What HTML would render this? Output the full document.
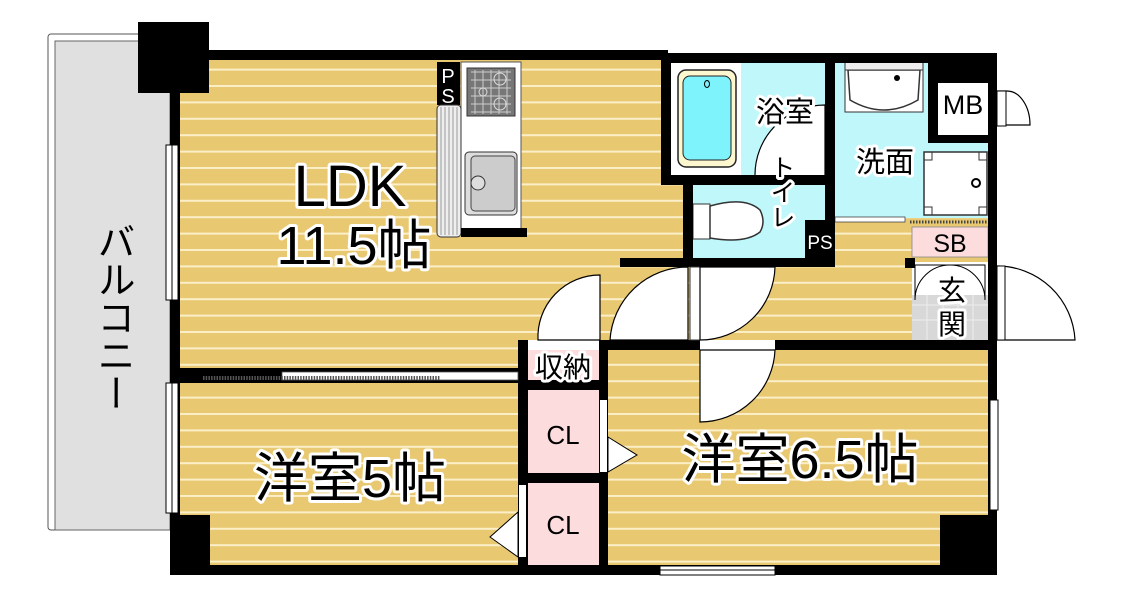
<!DOCTYPE html>
<html><head><meta charset="utf-8"><style>
html,body{margin:0;padding:0;background:#fff;width:1122px;height:605px;overflow:hidden}
svg{display:block}
.t{font-family:"Liberation Sans","Noto Sans CJK JP",sans-serif;fill:#000;stroke:#fff;stroke-width:6px;paint-order:stroke;stroke-linejoin:round}
.s{font-family:"Liberation Sans","Noto Sans CJK JP",sans-serif;fill:#000}
</style></head><body>
<svg width="1122" height="605" viewBox="0 0 1122 605" xmlns="http://www.w3.org/2000/svg">
<defs>
<pattern id="wood" x="0" y="3" width="20" height="16.4" patternUnits="userSpaceOnUse">
<rect width="20" height="16.4" fill="#e9c872"/><rect y="0" width="20" height="2" fill="#fbefc8"/>
</pattern>
</defs>
<rect x="48" y="34" width="125" height="496" fill="#fff" stroke="#555" stroke-width="1" rx="3"/>
<rect x="55" y="41" width="115" height="489" fill="#e0e0e0" stroke="#666" stroke-width="1"/>
<text class="s" x="112" y="222" font-size="38" style="writing-mode:vertical-rl" text-anchor="start">バルコニー</text>

<rect x="180" y="60" width="485" height="310" fill="url(#wood)"/>
<rect x="620" y="180" width="370" height="165" fill="url(#wood)"/>
<rect x="180" y="380" width="340" height="190" fill="url(#wood)"/>
<rect x="605" y="348" width="385" height="220" fill="url(#wood)"/>

<rect x="671" y="62" width="156" height="114" fill="#fff"/>
<rect x="741" y="62" width="86" height="114" fill="#bff7fb"/>
<rect x="678" y="70" width="58" height="97" rx="8" fill="#fdf7d0" stroke="#222" stroke-width="1.5"/>
<rect x="683" y="76" width="48" height="84" rx="7" fill="#7ff3fb" stroke="#222" stroke-width="1"/>
<ellipse cx="707" cy="84" rx="2.5" ry="3.5" fill="none" stroke="#000"/>
<rect x="825" y="105" width="8" height="72" fill="#fff" stroke="#333"/>
<path d="M825 105 A70 70 0 0 0 755 176 L825 176 Z" fill="#fff" stroke="#000" stroke-width="1.2"/>
<rect x="835" y="62" width="153" height="156" fill="#bff7fb"/>
<rect x="845" y="62" width="78" height="50" fill="#fff" stroke="#333"/>
<path d="M848 70 L920 70 L918 100 Q884 120 850 100 Z" fill="#fff" stroke="#333" stroke-width="1.5"/>
<rect x="845" y="62" width="78" height="8" fill="#eee" stroke="#333"/>
<circle cx="897" cy="78" r="3" fill="#000"/>
<rect x="924" y="152" width="63" height="63" fill="#fff" stroke="#333" stroke-width="1.5"/>
<path d="M924 160h8v-8M987 160h-8v-8M924 207h8v8M987 207h-8v8" fill="none" stroke="#333"/>
<circle cx="976" cy="183" r="4" fill="none" stroke="#000" stroke-width="2"/>
<rect x="835" y="217" width="70" height="5" fill="#fff" stroke="#444" stroke-width="0.8"/>
<line x1="910" y1="222" x2="988" y2="222" stroke="#444" stroke-width="3" stroke-dasharray="1.5 1.5"/>
<rect x="928" y="53" width="69" height="90" fill="#000"/>
<rect x="938" y="83" width="50" height="52" fill="#fff"/>
<text class="s" x="963" y="114" font-size="27" text-anchor="middle">MB</text>
<path d="M997 91 L1007 91 A23 34 0 0 1 1030 125 L997 125" fill="#fff" stroke="#000" stroke-width="1.2"/>
<rect x="997" y="91" width="9" height="35" fill="#fff" stroke="#000" stroke-width="1"/>
<rect x="693" y="185" width="113" height="75" fill="#bff7fb"/>
<rect x="693" y="204" width="17" height="35" fill="#fff" stroke="#333"/>
<path d="M710 206 Q745 196 760 210 Q766 222 760 232 Q745 244 710 238 Z" fill="#fff" stroke="#333" stroke-width="1.5"/>
<rect x="912" y="227" width="76" height="30" fill="#fcdcdc" stroke="#888" stroke-width="0.8"/>
<text class="s" x="950" y="252" font-size="25" text-anchor="middle">SB</text>
<rect x="912" y="262" width="76" height="78" fill="#fff"/>
<rect x="912" y="295" width="76" height="45" fill="#d8d8d8"/>
<path d="M912 305h76M912 320h76M927 295v45M943 295v45M958 295v45M973 295v45" stroke="#eee" stroke-width="1"/>
<path d="M915 265 L915 300 A35 35 0 0 1 950 265 Z" fill="#fff" stroke="#000" stroke-width="1"/>
<path d="M985 265 L985 300 A35 35 0 0 0 950 265 Z" fill="#fff" stroke="#000" stroke-width="1"/>
<text class="t" x="952" y="300" font-size="28" text-anchor="middle">玄</text>
<text class="t" x="952" y="334" font-size="28" text-anchor="middle">関</text>
<path d="M997 266 A78 78 0 0 1 1075 340 L997 340 Z" fill="#fff" stroke="#000" stroke-width="1.2"/>
<rect x="997" y="266" width="8" height="74" fill="#fff" stroke="#000" stroke-width="1"/>

<rect x="461" y="62" width="60" height="170" fill="#fff" stroke="#555"/>
<rect x="467" y="68" width="48" height="48" fill="#777" stroke="#333"/>
<path d="M471 72h40M471 80h40M471 88h40M471 96h40M471 104h40M471 112h40M475 70v44M483 70v44M491 70v44M499 70v44M507 70v44" stroke="#ccc" stroke-width="1"/>
<circle cx="500" cy="79" r="6" fill="none" stroke="#ddd"/><circle cx="500" cy="104" r="6" fill="none" stroke="#ddd"/><circle cx="483" cy="92" r="4" fill="none" stroke="#ddd"/>
<rect x="465" y="152" width="52" height="63" rx="4" fill="#ddd" stroke="#333"/>
<rect x="471" y="156" width="44" height="55" rx="4" fill="#ccc" stroke="#444"/>
<circle cx="478" cy="183" r="7" fill="#ddd" stroke="#333"/>
<rect x="437" y="62" width="23" height="43" fill="#000"/>
<text class="s" x="448" y="83" font-size="20" text-anchor="middle" style="fill:#fff">P</text>
<text class="s" x="448" y="103" font-size="20" text-anchor="middle" style="fill:#fff">S</text>
<rect x="437" y="105" width="24" height="132" rx="4" fill="#eee" stroke="#333"/>
<path d="M441 107v128M445 107v128M449 107v128M453 107v128M457 107v128" stroke="#999" stroke-width="1"/>
<rect x="461" y="228" width="66" height="9" fill="#000"/>

<g fill="#000">
<rect x="138" y="22" width="71" height="71"/>
<rect x="170" y="50" width="498" height="10"/>
<rect x="661" y="53" width="336" height="10"/>
<rect x="170" y="50" width="10" height="525"/>
<rect x="170" y="565" width="827" height="10"/>
<rect x="988" y="53" width="9" height="522"/>
<rect x="661" y="53" width="10" height="132"/>
<rect x="661" y="175" width="174" height="10"/>
<rect x="825" y="53" width="10" height="167"/>
<rect x="683" y="185" width="10" height="82"/>
<rect x="620" y="258" width="215" height="9"/>
<rect x="805" y="220" width="30" height="47"/>
<rect x="905" y="258" width="10" height="10"/>
<rect x="170" y="368" width="350" height="15"/>
<rect x="518" y="340" width="10" height="235"/>
<rect x="518" y="340" width="479" height="10"/>
<rect x="599" y="340" width="9" height="235"/>
<rect x="518" y="380" width="90" height="10"/>
<rect x="518" y="473" width="90" height="10"/>
<rect x="170" y="515" width="40" height="60"/>
<rect x="940" y="515" width="57" height="60"/>
</g>
<rect x="805" y="185" width="20" height="35" fill="#bff7fb"/>
<text class="s" x="820" y="249" font-size="19" text-anchor="middle" style="fill:#fff;stroke:#000;stroke-width:3px;paint-order:stroke">PS</text>
<rect x="282" y="372" width="236" height="8" fill="#fff" stroke="#555" stroke-width="0.8"/>
<line x1="203" y1="378" x2="440" y2="378" stroke="#555" stroke-width="4" stroke-dasharray="1.5 1.2"/>
<rect x="528" y="350" width="71" height="30" fill="#fcdcdc"/>
<rect x="528" y="390" width="71" height="83" fill="#fcdcdc"/>
<rect x="528" y="483" width="71" height="82" fill="#fcdcdc"/>
<text class="t" x="563" y="377" font-size="28" text-anchor="middle">収納</text>
<text class="s" x="563" y="444" font-size="26" text-anchor="middle">CL</text>
<text class="s" x="563" y="534" font-size="26" text-anchor="middle">CL</text>
<rect x="600" y="400" width="7" height="72" fill="#fff"/>
<path d="M608 437 L637 455 L608 472 Z" fill="#fff" stroke="#000" stroke-width="1"/>
<rect x="519" y="485" width="7" height="72" fill="#fff"/>
<path d="M518 512 L490 537 L518 557 Z" fill="#fff" stroke="#000" stroke-width="1"/>
<rect x="528" y="340" width="71" height="10" fill="#fff"/>
<rect x="700" y="340" width="75" height="10" fill="#fff"/>
<rect x="690" y="267" width="10" height="73" fill="#fff" stroke="#333" stroke-width="1"/>
<path d="M600 275 L600 340 L538 340 A62 62 0 0 1 600 275 Z" fill="#fff" stroke="#000" stroke-width="1.2"/>
<path d="M688 267 L688 340 L610 340 A78 78 0 0 1 688 267 Z" fill="#fff" stroke="#000" stroke-width="1.2"/>
<path d="M700 267 L775 267 A75 75 0 0 1 700 340 Z" fill="#fff" stroke="#000" stroke-width="1.2"/>
<path d="M700 350 L775 350 A75 75 0 0 1 700 422 Z" fill="#fff" stroke="#000" stroke-width="1.2"/>
<rect x="166" y="145" width="12" height="155" fill="#fff" stroke="#000" stroke-width="1"/>
<line x1="172" y1="145" x2="172" y2="300" stroke="#000"/>
<rect x="166" y="383" width="12" height="130" fill="#fff" stroke="#000" stroke-width="1"/>
<line x1="172" y1="383" x2="172" y2="513" stroke="#000"/>
<rect x="990" y="400" width="8" height="110" fill="#fff" stroke="#000" stroke-width="1"/>
<rect x="660" y="566" width="115" height="9" fill="#fff" stroke="#000" stroke-width="1"/>
<line x1="660" y1="570" x2="775" y2="570" stroke="#000"/>
<text class="t" x="350" y="206" font-size="58" text-anchor="middle">LDK</text>
<text class="t" x="354" y="264" font-size="54" text-anchor="middle">11.5帖</text>
<text class="t" x="785" y="122" font-size="29" text-anchor="middle">浴室</text>
<text class="t" x="885" y="172" font-size="29" text-anchor="middle">洗面</text>
<text class="t" x="781" y="192" font-size="25" text-anchor="middle" style="writing-mode:vertical-rl">トイレ</text>
<text class="t" x="350" y="497" font-size="54" text-anchor="middle">洋室5帖</text>
<text class="t" x="800" y="478" font-size="54" text-anchor="middle">洋室6.5帖</text>
</svg>
</body></html>
